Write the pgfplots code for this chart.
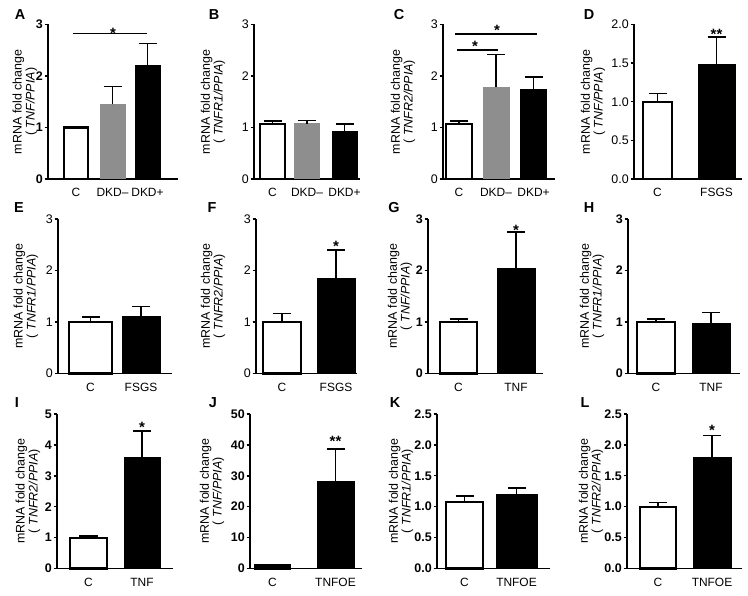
\documentclass[border=0pt]{standalone}
\usepackage{pgfplots}
\pgfplotsset{compat=1.18}
\usepackage{fontspec}
\setmainfont{Liberation Sans}
\definecolor{barGray}{RGB}{142,142,142}
\newcommand\tfont{\fontsize{12.5}{12.5}\selectfont}
\newcommand\xfont{\fontsize{12}{12}\selectfont}
\newcommand\ylabfont{\fontsize{12.5}{13}\selectfont}
\newcommand\ylab[3]{\node[rotate=90, align=center, font=\ylabfont, inner sep=0pt] at (#1bp,#2bp) {mRNA fold change\\( \textit{#3})};}
\newcommand\plab[3]{\node[font=\fontsize{14.5}{14.5}\selectfont\bfseries, inner sep=0pt] at (#1bp,#2bp) {#3};}
\pgfplotsset{
  prism/.style={
    scale only axis, anchor=south west,
    axis lines=left, axis line style={-, line width=1.5bp, black},
    ymin=0, enlargelimits=false, clip=false,
    xtick style={draw=none}, tick align=outside, major tick length=3.5bp,
    ytick style={line width=1.4bp, black},
    yticklabel style={font=\tfont, inner xsep=1.5bp},
    xticklabel style={font=\xfont, yshift=-2.5bp},
    /pgf/number format/assume math mode=true,
    height=154.5bp,
  },
  boldticks/.style={yticklabel style={font=\tfont\bfseries}},
  dec/.style={yticklabel style={/pgf/number format/.cd, fixed, fixed zerofill, precision=1}},
  ebar/.style={error bars/y dir=plus, error bars/y explicit,
    error bars/error bar style={line width=1.4bp, black},
    error bars/error mark options={rotate=90, line width=1.4bp, black, mark size=9bp}},
  wbar/.style={ybar, fill=white, draw=black, line width=2.2bp, ebar},
  kbar/.style={ybar, fill=black, draw=black, line width=1bp, ebar},
  gbar/.style={ybar, fill=barGray, draw=barGray, line width=1bp, ebar},
}
\newcommand\sig[2]{\node[anchor=base, font=\fontsize{15}{15}\selectfont\bfseries, inner sep=0pt] at (axis cs:#1) {#2};}
\begin{document}
\begin{tikzpicture}
\path[use as bounding box] (0,0) rectangle (748bp,596bp);
% ---------- Row 1 ----------
% A
\begin{axis}[prism, boldticks, at={(48bp,417bp)}, width=130bp, xmin=48, xmax=178, ymax=3, ytick={0,1,2,3},
  xtick={76,112.5,147.5}, xticklabels={C,DKD–,DKD+}]
\addplot[wbar, bar width=24] coordinates {(76,1.0) +- (0,0.01)};
\addplot[gbar, bar width=25] coordinates {(112.5,1.45) +- (0,0.35)};
\addplot[kbar, bar width=25] coordinates {(147.5,2.2) +- (0,0.43)};
\draw[line width=1.4bp] (axis cs:73,2.825) -- (axis cs:147,2.825);
\sig{113,2.725}{*}
\end{axis}
% B
\begin{axis}[prism, at={(254bp,417bp)}, width=106bp, xmin=254, xmax=360, ymax=3, ytick={0,1,2,3},
  xtick={272.5,307,344.5}, xticklabels={C,DKD–,DKD+}]
\addplot[wbar, bar width=25] coordinates {(272.5,1.07) +- (0,0.06)};
\addplot[gbar, bar width=25] coordinates {(307,1.07) +- (0,0.07)};
\addplot[kbar, bar width=25] coordinates {(344.5,0.93) +- (0,0.14)};
\end{axis}
% C
\begin{axis}[prism, at={(443bp,417bp)}, width=112bp, xmin=443, xmax=555, ymax=3, ytick={0,1,2,3},
  xtick={459,496,533.5}, xticklabels={C,DKD–,DKD+}]
\addplot[wbar, bar width=26] coordinates {(459,1.07) +- (0,0.06)};
\addplot[gbar, bar width=26] coordinates {(496,1.78) +- (0,0.64)};
\addplot[kbar, bar width=26] coordinates {(533.5,1.74) +- (0,0.24)};
\draw[line width=1.4bp] (axis cs:455,2.816) -- (axis cs:537,2.816);
\draw[line width=1.4bp] (axis cs:457,2.505) -- (axis cs:498,2.505);
\sig{497,2.783}{*}
\sig{475,2.472}{*}
\end{axis}
% D
\begin{axis}[prism, dec, at={(634bp,417bp)}, width=108bp, xmin=634, xmax=742, ymax=2, ytick={0,0.5,1,1.5,2},
  xtick={657.5,716.5}, xticklabels={C,FSGS}]
\addplot[wbar, bar width=29] coordinates {(657.5,1.0) +- (0,0.11)};
\addplot[kbar, bar width=37] coordinates {(716.5,1.48) +- (0,0.36)};
\sig{716.5,1.803}{**}
\end{axis}
% ---------- Row 2 ----------
% E
\begin{axis}[prism, at={(58bp,222.5bp)}, width=114bp, xmin=58, xmax=172, ymax=3, ytick={0,1,2,3},
  xtick={90.5,141}, xticklabels={C,FSGS}]
\addplot[wbar, bar width=43] coordinates {(90.5,1.0) +- (0,0.1)};
\addplot[kbar, bar width=38] coordinates {(141,1.1) +- (0,0.2)};
\end{axis}
% F
\begin{axis}[prism, at={(256bp,222.5bp)}, width=101bp, xmin=256, xmax=357, ymax=3, ytick={0,1,2,3},
  xtick={282,336}, xticklabels={C,FSGS}]
\addplot[wbar, bar width=38] coordinates {(282,1.0) +- (0,0.17)};
\addplot[kbar, bar width=38] coordinates {(336,1.85) +- (0,0.55)};
\sig{336,2.365}{*}
\end{axis}
% G
\begin{axis}[prism, boldticks, at={(428bp,222.5bp)}, width=115bp, xmin=428, xmax=543, ymax=3, ytick={0,1,2,3},
  xtick={458.5,516}, xticklabels={C,TNF}]
\addplot[wbar, bar width=37] coordinates {(458.5,1.0) +- (0,0.06)};
\addplot[kbar, bar width=38] coordinates {(516,2.03) +- (0,0.72)};
\sig{516,2.677}{*}
\end{axis}
% H
\begin{axis}[prism, boldticks, at={(628bp,222.5bp)}, width=112bp, xmin=628, xmax=740, ymax=3, ytick={0,1,2,3},
  xtick={656,711}, xticklabels={C,TNF}]
\addplot[wbar, bar width=38] coordinates {(656,1.0) +- (0,0.06)};
\addplot[kbar, bar width=38] coordinates {(711,0.97) +- (0,0.21)};
\end{axis}
% ---------- Row 3 ----------
% I
\begin{axis}[prism, boldticks, at={(57bp,27.5bp)}, width=116bp, xmin=57, xmax=173, ymax=5, ytick={0,1,2,3,4,5},
  xtick={88.5,142}, xticklabels={C,TNF}]
\addplot[wbar, bar width=37] coordinates {(88.5,1.0) +- (0,0.05)};
\addplot[kbar, bar width=36] coordinates {(142,3.6) +- (0,0.85)};
\sig{142,4.394}{*}
\end{axis}
% J
\begin{axis}[prism, boldticks, at={(250bp,27.5bp)}, width=112bp, xmin=250, xmax=362, ymax=50, ytick={0,10,20,30,40,50},
  xtick={272.5,335.5}, xticklabels={C,TNFOE}]
\addplot[wbar, bar width=35] coordinates {(272.5,1.0) +- (0,0.1)};
\addplot[kbar, bar width=37] coordinates {(335.5,28) +- (0,10.7)};
\sig{335.5,39.4}{**}
\end{axis}
% K
\begin{axis}[prism, boldticks, dec, at={(437bp,27.5bp)}, width=113bp, xmin=437, xmax=550, ymax=2.5, ytick={0,0.5,1,1.5,2,2.5},
  xtick={464.5,516.5}, xticklabels={C,TNFOE}]
\addplot[wbar, bar width=37] coordinates {(464.5,1.08) +- (0,0.09)};
\addplot[kbar, bar width=41] coordinates {(516.5,1.2) +- (0,0.1)};
\end{axis}
% L
\begin{axis}[prism, boldticks, dec, at={(627bp,27.5bp)}, width=115bp, xmin=627, xmax=742, ymax=2.5, ytick={0,0.5,1,1.5,2,2.5},
  xtick={658,712}, xticklabels={C,TNFOE}]
\addplot[wbar, bar width=36] coordinates {(658,1.0) +- (0,0.07)};
\addplot[kbar, bar width=38] coordinates {(712,1.8) +- (0,0.35)};
\sig{712,2.149}{*}
\end{axis}
% ---------- y labels ----------
\ylab{25}{494.25}{TNF/PPIA}
\ylab{213}{494.25}{TNFR1/PPIA}
\ylab{403}{494.25}{TNFR2/PPIA}
\ylab{593}{494.25}{TNF/PPIA}
\ylab{26}{299.75}{TNFR1/PPIA}
\ylab{213}{299.75}{TNFR2/PPIA}
\ylab{400}{299.75}{TNF/PPIA}
\ylab{592}{299.75}{TNFR1/PPIA}
\ylab{28}{104.75}{TNFR2/PPIA}
\ylab{212}{104.75}{TNF/PPIA}
\ylab{401}{104.75}{TNFR1/PPIA}
\ylab{591}{104.75}{TNFR2/PPIA}
% ---------- panel letters ----------
\plab{20}{581}{A}
\plab{214}{581}{B}
\plab{399}{581}{C}
\plab{589}{581}{D}
\plab{19}{388}{E}
\plab{212}{388}{F}
\plab{394}{388}{G}
\plab{589}{388}{H}
\plab{17}{193}{I}
\plab{213}{193}{J}
\plab{395}{193}{K}
\plab{585}{193}{L}
\end{tikzpicture}
\end{document}
